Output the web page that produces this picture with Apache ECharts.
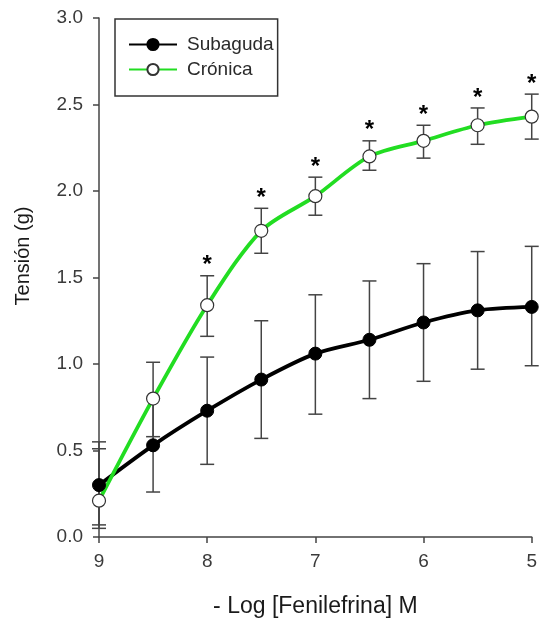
<!DOCTYPE html>
<html>
<head>
<meta charset="utf-8">
<script src="https://cdn.jsdelivr.net/npm/echarts@6/dist/echarts.min.js"></script>
<style>
  html, body { margin: 0; padding: 0; background: #fff; }
  #chart { width: 540px; height: 626px; }
</style>
</head>
<body>
<div id="chart"></div>
<script>
// ---- data ----
const xValues   = [9, 8.5, 8, 7.5, 7, 6.5, 6, 5.5, 5];
const subaguda  = [0.30, 0.53, 0.73, 0.91, 1.06, 1.14, 1.24, 1.31, 1.33];
const subLow    = [0.05, 0.26, 0.42, 0.57, 0.71, 0.80, 0.90, 0.97, 0.99];
const subHigh   = [0.55, 0.80, 1.04, 1.25, 1.40, 1.48, 1.58, 1.65, 1.68];
const cronica   = [0.21, 0.80, 1.34, 1.77, 1.97, 2.20, 2.29, 2.38, 2.43];
const cronLow   = [0.07, 0.58, 1.16, 1.64, 1.86, 2.12, 2.19, 2.27, 2.30];
const cronHigh  = [0.51, 1.01, 1.51, 1.90, 2.08, 2.29, 2.38, 2.48, 2.56];
const signif    = ['', '', '*', '*', '*', '*', '*', '*', '*'];
const xTicks    = [9, 8, 7, 6, 5];
const yTicks    = [0, 0.5, 1, 1.5, 2, 2.5, 3];
const seriesNames = ['Subaguda', 'Crónica'];
const xTitle = '- Log [Fenilefrina] M';
const yTitle = 'Tensión (g)';

const FONT = "'Liberation Sans', Arial, sans-serif";
const GREEN = '#22dd22';
const AXIS = '#444';

const pairs = (ys) => xValues.map((x, i) => [x, ys[i]]);
const errData = (lo, hi) => xValues.map((x, i) => [x, lo[i], hi[i]]);

function errRender(params, api) {
  const x = api.value(0);
  const p1 = api.coord([x, api.value(2)]);
  const p2 = api.coord([x, api.value(1)]);
  const w = 7;
  const style = { stroke: AXIS, lineWidth: 1.5 };
  return {
    type: 'group',
    children: [
      { type: 'line', shape: { x1: p1[0], y1: p1[1], x2: p2[0], y2: p2[1] }, style },
      { type: 'line', shape: { x1: p1[0] - w, y1: p1[1], x2: p1[0] + w, y2: p1[1] }, style },
      { type: 'line', shape: { x1: p2[0] - w, y1: p2[1], x2: p2[0] + w, y2: p2[1] }, style }
    ]
  };
}

const starData = xValues.map((x, i) => [x, cronHigh[i], signif[i]]).filter(d => d[2]);

const chart = echarts.init(document.getElementById('chart'), null, { renderer: 'canvas' });
chart.setOption({
  animation: false,
  backgroundColor: '#fff',
  grid: { left: 99, right: 7, top: 18, bottom: 89, containLabel: false },
  xAxis: {
    type: 'value', min: 5, max: 9, interval: 1, inverse: true,
    name: xTitle, nameLocation: 'middle', nameGap: 58,
    nameTextStyle: { fontFamily: FONT, fontSize: 23, color: '#1a1a1a' },
    axisLine: { show: true, lineStyle: { color: AXIS, width: 1.5 } },
    axisTick: { show: true, inside: false, length: 6, lineStyle: { color: AXIS, width: 1.5 } },
    axisLabel: { fontFamily: FONT, fontSize: 19, color: '#3a3a3a', margin: 15,
      customValues: xTicks, formatter: v => String(v) },
    splitLine: { show: false }
  },
  yAxis: {
    type: 'value', min: 0, max: 3, interval: 0.5,
    axisLine: { show: true, lineStyle: { color: AXIS, width: 1.5 } },
    axisTick: { show: true, inside: false, length: 6, lineStyle: { color: AXIS, width: 1.5 } },
    axisLabel: { fontFamily: FONT, fontSize: 19, color: '#3a3a3a', margin: 16,
      formatter: v => v.toFixed(1) },
    splitLine: { show: false }
  },
  legend: {
    orient: 'vertical', left: 115, top: 19,
    data: seriesNames,
    itemWidth: 48, itemHeight: 14, itemGap: 6,
    padding: [16, 4, 17, 13],
    borderColor: '#333', borderWidth: 1.5,
    textStyle: { fontFamily: FONT, fontSize: 19, color: '#2a2a2a', padding: [0, 0, 0, 5] }
  },
  graphic: [{
    type: 'text', x: 23, y: 256, rotation: Math.PI / 2,
    style: { text: yTitle, fontFamily: FONT, fontSize: 20, fill: '#1a1a1a',
      align: 'center', verticalAlign: 'middle' }
  }],
  series: [
    { type: 'custom', name: 'errSub', data: errData(subLow, subHigh), renderItem: errRender, clip: false, z: 1, silent: true },
    { type: 'custom', name: 'errCron', data: errData(cronLow, cronHigh), renderItem: errRender, clip: false, z: 1, silent: true },
    {
      type: 'line', name: seriesNames[0], data: pairs(subaguda), smooth: 0.3, z: 3,
      symbol: 'circle', symbolSize: 13, clip: false,
      lineStyle: { color: '#000', width: 3.8 },
      itemStyle: { color: '#000', borderColor: '#000', borderWidth: 1 }
    },
    {
      type: 'line', name: seriesNames[1], data: pairs(cronica), smooth: 0.3, z: 3,
      symbol: 'circle', symbolSize: 13, clip: false,
      lineStyle: { color: GREEN, width: 3.8 },
      itemStyle: { color: '#fff', borderColor: '#333', borderWidth: 1.2 }
    },
    {
      type: 'custom', name: 'stars', data: starData, clip: false, z: 4, silent: true,
      renderItem: (params, api) => {
        const p = api.coord([api.value(0), api.value(1)]);
        return { type: 'text', x: p[0], y: p[1] - 10,
          style: { text: '*', fontFamily: FONT, fontSize: 24, fontWeight: 'bold', fill: '#000',
            align: 'center', verticalAlign: 'middle' } };
      }
    }
  ]
});
</script>
</body>
</html>
